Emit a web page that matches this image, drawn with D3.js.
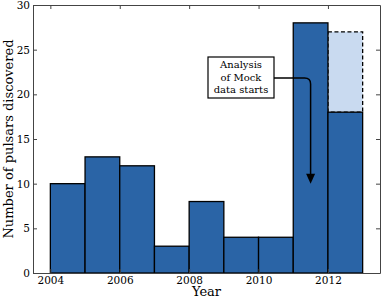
<!DOCTYPE html>
<html>
<head>
<meta charset="utf-8">
<script src="https://cdn.jsdelivr.net/npm/d3@7"></script>
<style>
  body { margin: 0; background: #fff; }
  svg { display: block; font-family: "DejaVu Serif", serif; }
</style>
</head>
<body>
<div id="chart"></div>
<script>
// pulsars found per year
var years = [2004, 2005, 2006, 2007, 2008, 2009, 2010, 2011, 2012];
var counts = [10, 13, 12, 3, 8, 4, 4, 28, 18];
// 2012 projected total (dashed part)
var projectedYear = 2012;
var projectedTotal = 27;
var xTicks = [2004, 2006, 2008, 2010, 2012];
var yTicks = [0, 5, 10, 15, 20, 25, 30];
var noteLines = ["Analysis", "of Mock", "data starts"];
var notePoint = {x: 2011.5, y: 10};

var width = 381, height = 300;
var margin = {top: 5, right: 1, bottom: 27, left: 33};

var svg = d3.select('#chart').append('svg').attr('width', width).attr('height', height);

var x = d3.scaleLinear().domain([2003.5, 2013.5]).range([margin.left, width - margin.right]);
var y = d3.scaleLinear().domain([0, 30]).range([height - margin.bottom, margin.top]);

var fill = '#2a64a6';
var lightFill = '#c9daf0';

// dashed projection bar
svg.append('rect')
    .attr('x', x(projectedYear))
    .attr('y', y(projectedTotal))
    .attr('width', x(projectedYear + 1) - x(projectedYear))
    .attr('height', y(counts[years.indexOf(projectedYear)]) - y(projectedTotal))
    .attr('fill', lightFill)
    .attr('stroke', '#000')
    .attr('stroke-width', 1.3)
    .attr('stroke-dasharray', '4,2.5');

svg.selectAll('rect.bar')
    .data(counts)
    .enter()
    .append('rect')
    .attr('class', 'bar')
    .attr('fill', fill)
    .attr('stroke', '#000')
    .attr('stroke-width', 1.3)
    .attr('x', function (d, i) { return x(years[i]); })
    .attr('width', function (d, i) { return x(years[i] + 1) - x(years[i]); })
    .attr('y', function (d) { return y(d); })
    .attr('height', function (d) { return y(0) - y(d); });

// axes, ticks pointing inward like the original
var tickColor = '#444';
svg.append('g')
    .attr('transform', 'translate(0,' + y(0) + ')')
    .call(d3.axisBottom(x).tickValues(xTicks).tickFormat(d3.format('d')).tickSizeInner(-4).tickSizeOuter(0).tickPadding(4));
svg.append('g')
    .attr('transform', 'translate(0,' + y(30) + ')')
    .call(d3.axisTop(x).tickValues(xTicks).tickFormat('').tickSizeInner(-4).tickSizeOuter(0));
svg.append('g')
    .attr('transform', 'translate(' + x(2003.5) + ',0)')
    .call(d3.axisLeft(y).tickValues(yTicks).tickSizeInner(-4).tickSizeOuter(0).tickPadding(3));
svg.append('g')
    .attr('transform', 'translate(' + x(2013.5) + ',0)')
    .call(d3.axisRight(y).tickValues(yTicks).tickFormat('').tickSizeInner(-4).tickSizeOuter(0));

svg.selectAll('.domain').attr('stroke', tickColor);
svg.selectAll('.tick line').attr('stroke', tickColor);
svg.selectAll('.tick text')
    .attr('fill', '#000')
    .style('font-family', '"DejaVu Serif", serif')
    .style('font-size', '10.5px');

svg.append('text')
    .attr('x', (x(2003.5) + x(2013.5)) / 2)
    .attr('y', 296)
    .attr('text-anchor', 'middle')
    .style('font-size', '13px')
    .text('Year');

svg.append('text')
    .attr('transform', 'translate(13,' + (y(15)) + ') rotate(-90)')
    .attr('text-anchor', 'middle')
    .style('font-size', '13px')
    .text('Number of pulsars discovered');

// annotation box + arrow
var box = {x0: 208, y0: 57, x1: 274, y1: 98};
var ax = x(notePoint.x), ay = y(notePoint.y);
var lineY = 78;
svg.append('path')
    .attr('d', 'M' + box.x1 + ',' + lineY + 'H' + (ax - 6) + 'Q' + ax + ',' + lineY + ' ' + ax + ',' + (lineY + 6) + 'V' + (ay - 9))
    .attr('fill', 'none')
    .attr('stroke', '#000')
    .attr('stroke-width', 1.5);
svg.append('path')
    .attr('d', 'M' + (ax - 4.5) + ',' + (ay - 10) + 'L' + (ax + 4.5) + ',' + (ay - 10) + 'L' + ax + ',' + ay + 'Z')
    .attr('fill', '#000');

svg.append('rect')
    .attr('x', box.x0).attr('y', box.y0)
    .attr('width', box.x1 - box.x0).attr('height', box.y1 - box.y0)
    .attr('fill', '#fff')
    .attr('stroke', '#000')
    .attr('stroke-width', 1.2);

svg.append('text')
    .attr('text-anchor', 'middle')
    .style('font-size', '10px')
    .selectAll('tspan')
    .data(noteLines)
    .enter()
    .append('tspan')
    .attr('x', (box.x0 + box.x1) / 2)
    .attr('y', function (d, i) { return 68 + i * 12.5; })
    .text(function (d) { return d; });
</script>
</body>
</html>
